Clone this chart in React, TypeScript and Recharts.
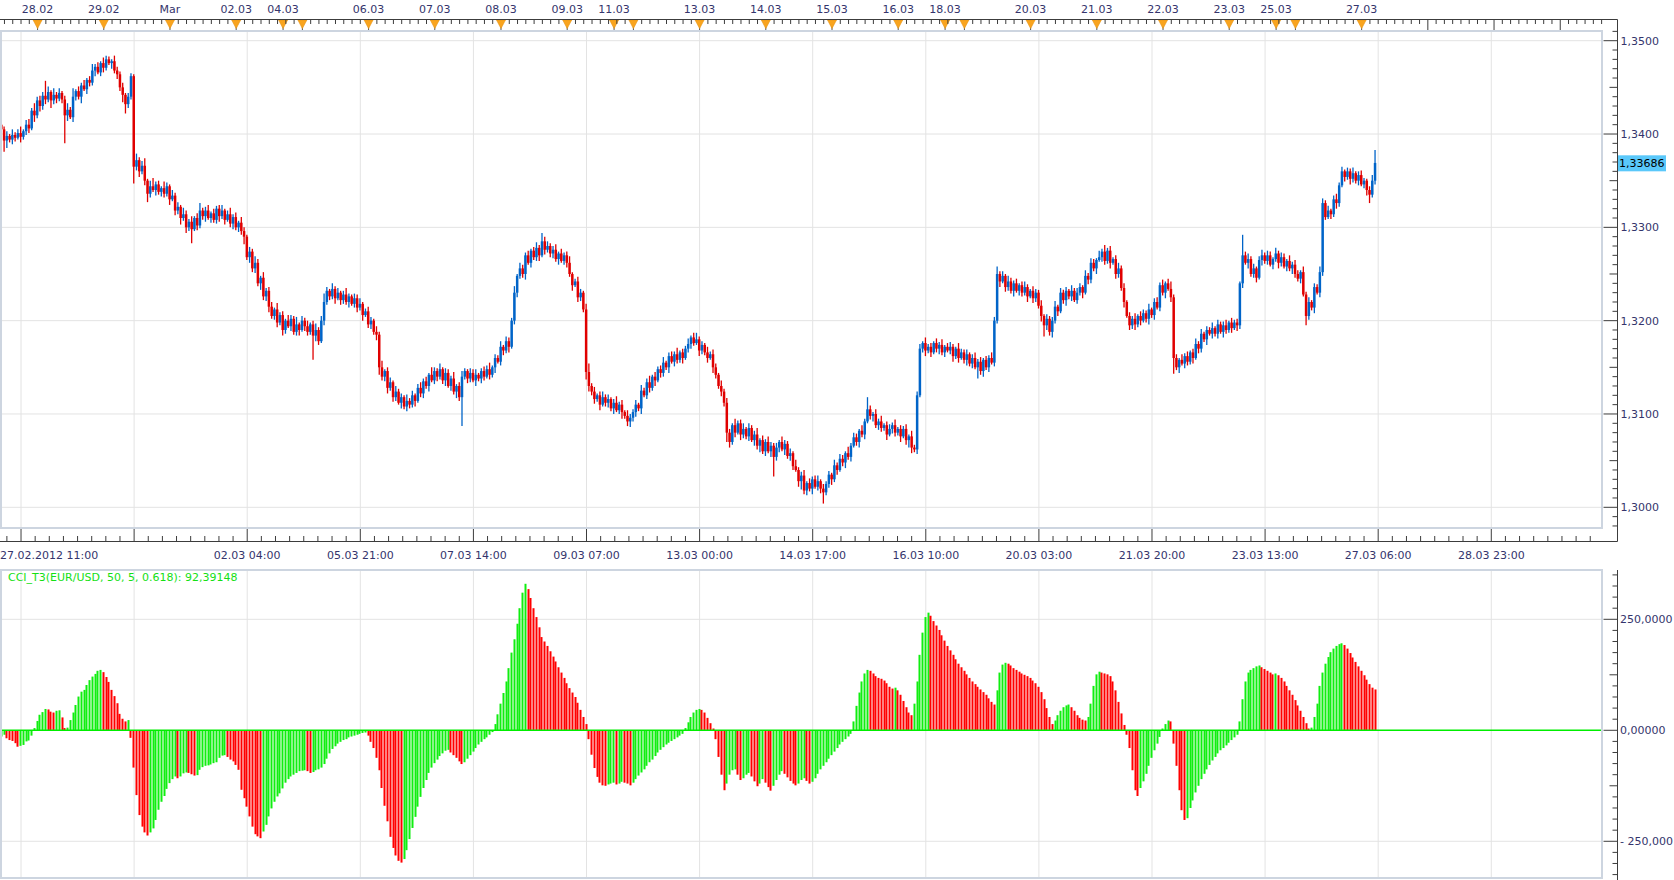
import React from "react";
import { ComposedChart, Bar, XAxis, YAxis, CartesianGrid, ReferenceLine } from "recharts";

// EUR/USD hourly, 27.02.2012 04:00 .. 27.03.2012 05:00
// prices kept in pips above 1.3000
const OPEN_FIRST = 410;
const CLOSE = [
  405, 393, 398, 394, 399, 396, 401, 397, 403, 410,
  406, 425, 420, 436, 430, 441, 437, 445, 436, 442,
  438, 444, 437, 420, 426, 418, 440, 446, 440, 452,
  448, 458, 455, 468, 472, 466, 476, 471, 480, 476,
  478, 468, 464, 450, 442, 432, 440, 462,
  365, 372, 360, 366, 350, 336, 344, 340, 346, 338,
  342, 336, 344, 330, 334, 318, 322, 310, 314, 300,
  306, 298, 310, 302, 318, 312, 318, 310, 315, 308,
  320, 312, 318, 308, 314, 304, 311, 300, 305, 296,
  290, 268, 274, 256, 262, 240, 246, 226, 232, 215,
  205, 212, 198, 206, 190, 200, 194, 202, 188, 196,
  190, 200, 194, 188, 196, 184, 190, 178, 200, 220,
  232, 226, 234, 224, 230, 222, 228, 220, 226, 218,
  224, 214, 218, 206, 210, 196, 200, 188, 185, 150,
  140, 146, 128, 134, 118, 124, 112, 118, 108, 114,
  110, 120, 114, 128, 122, 135, 130, 142, 136, 146,
  140, 148, 136, 144, 130, 138, 124, 130, 118, 140,
  146, 138, 144, 136, 142, 138, 146, 140, 148, 142,
  150, 160, 156, 172, 168, 178, 172, 200, 230, 248,
  256, 250, 270, 262, 275, 268, 278, 270, 285, 276,
  280, 272, 276, 266, 272, 264, 270, 262, 250, 238,
  242, 225, 230, 212, 145, 130, 124, 116, 120, 110,
  118, 112, 116, 106, 112, 104, 110, 102, 98, 92,
  96, 102, 110, 106, 125, 120, 134, 128, 140, 136,
  148, 144, 155, 150, 162, 156, 164, 158, 166, 160,
  170, 175, 182, 176, 180, 168, 174, 166, 160, 164,
  150, 142, 130, 124, 112, 80, 70, 88, 80, 90,
  78, 84, 76, 85, 72, 78, 66, 72, 60, 70,
  60, 66, 54, 64, 70, 62, 68, 55, 58, 44,
  40, 28, 34, 18, 26, 20, 30, 22, 28, 20,
  16, 25, 35, 30, 45, 40, 52, 48, 58, 54,
  66, 75, 70, 82, 78, 92, 105, 98, 100, 88,
  92, 85, 88, 78, 84, 88, 80, 84, 76, 84,
  72, 76, 64, 62, 120, 170, 176, 168, 172, 166,
  176, 170, 174, 166, 172, 168, 172, 162, 170, 160,
  166, 158, 164, 154, 160, 150, 156, 146, 158, 150,
  160, 155, 200, 250, 242, 248, 236, 242, 232, 240,
  232, 238, 230, 236, 226, 232, 224, 230, 216, 205,
  195, 202, 188, 200, 215, 210, 230, 222, 232, 226,
  232, 222, 230, 236, 230, 248, 244, 262, 256, 265,
  268, 274, 264, 275, 262, 266, 250, 256, 235, 220,
  205, 195, 202, 196, 205, 200, 208, 202, 212, 206,
  220, 214, 238, 230, 240, 234, 225, 160, 150, 158,
  154, 162, 156, 166, 160, 175, 170, 186, 180, 190,
  186, 192, 186, 196, 188, 195, 190, 198, 192, 198,
  195, 240, 270, 262, 266, 250, 256, 246, 265, 270,
  264, 270, 260, 266, 272, 262, 268, 258, 264, 256,
  260, 250,
  245, 252, 228, 205, 220, 214, 236, 230, 252, 326,
  311, 318, 314, 330, 326, 345, 360, 354, 360, 352,
  358, 350, 356, 346, 350, 340, 335, 350, 369,
];
// pips from body to high / low
const WICK_UP = [
  9,3,5,2,6,3,4,7,2,5, 6,3,8,4,5,4,16,6,2,7,
  3,5,2,4,7,3,9,2,5,3, 6,2,4,7,3,5,2,6,4,3,
  2,6,4,3,5,2,4,3,2,7, 3,5,8,2,6,9,3,4,2,7,
  4,2,6,3,5,2,7,4,3,6, 2,5,8,3,4,6,2,5,3,4,
  6,2,4,7,3,5,2,6,4,2, 5,3,7,4,2,6,3,4,5,2,
  7,3,4,2,6,4,3,8,2,5, 3,6,2,4,7,3,5,9,4,2,
  6,3,5,2,4,7,3,2,5,4, 6,2,3,5,4,2,6,3,7,2,
  4,5,2,6,3,4,2,7,3,5, 2,4,6,3,5,2,8,4,3,6,
  2,5,4,3,7,2,4,6,3,2, 5,4,6,2,3,5,4,7,2,4,
  3,6,2,5,4,3,7,2,6,4, 3,5,2,4,6,3,9,5,5,3,
  4,6,2,5,3,4,7,2,3,5, 4,2,6,9,3,5,2,4,6,3,
  5,2,4,7,3,5,2,6,4,3, 5,2,6,3,4,7,2,5,3,4,
  6,2,4,5,3,7,2,4,3,6, 2,5,7,3,4,2,6,3,5,4,
  2,6,3,5,4,2,7,3,4,6, 2,5,3,4,7,2,5,3,6,4,
  3,5,2,6,4,3,5,2,7,3, 4,6,2,5,3,4,6,2,5,3,
  4,2,6,3,5,4,2,7,3,5, 4,2,6,3,13,4,2,5,3,6,
  2,4,5,3,6,2,4,3,5,2, 6,3,4,5,2,6,3,4,2,5,
  3,6,2,4,5,3,2,6,4,3, 5,2,4,6,3,5,2,4,3,6,
  4,8,3,5,2,6,4,3,5,2, 4,6,3,2,5,4,3,6,2,5,
  3,4,6,2,5,3,4,2,6,3, 5,4,2,6,3,5,4,2,7,3,
  7,3,5,2,4,6,3,5,2,4, 3,6,2,5,4,3,6,2,4,5,
  3,6,2,5,8,3,4,2,6,3, 5,2,4,6,3,5,2,4,3,6,
  2,5,3,4,6,2,5,3,4,2, 22,4,6,3,5,2,4,6,3,5,
  4,2,6,3,5,4,2,6,3,5, 4,2,6,3,5,2,4,3,6,5,
  3,5,2,4,6,3,5,2,4,3, 6,2,4,5,3,2,4,6,14,
];
const WICK_DN = [
  6,12,8,3,5,4,2,6,3,4, 5,2,7,3,6,4,5,3,8,4,
  5,3,4,30,6,2,5,4,3,7, 2,5,4,3,6,2,4,5,3,2,
  6,3,5,4,8,10,4,3,18,4, 6,3,5,9,4,2,6,3,5,4,
  3,6,2,5,4,7,3,6,4,15, 2,5,3,4,6,2,5,3,4,6,
  3,5,2,4,6,3,5,4,8,3, 6,4,5,3,7,4,5,6,3,4,
  5,3,6,4,2,5,3,4,6,2, 5,4,3,26,6,4,2,5,3,4,
  3,6,2,5,4,3,6,2,4,5, 3,6,2,4,5,3,6,8,4,5,
  6,3,5,4,2,6,3,5,4,3, 6,2,4,5,3,6,2,4,5,3,
  4,6,2,5,3,7,4,31,3,5, 4,2,6,3,5,4,2,5,3,6,
  2,4,5,3,6,2,4,5,3,4, 6,2,5,3,4,6,2,5,3,4,
  5,3,6,2,4,5,3,6,2,5, 4,3,8,6,4,5,3,6,2,4,
  5,3,6,2,4,7,3,5,6,4, 5,3,6,2,4,5,3,6,2,5,
  4,3,6,2,5,4,3,6,2,4, 5,3,2,6,4,3,5,2,6,4,
  3,5,4,10,6,3,5,2,6,4, 3,5,2,6,4,7,3,5,2,6,
  21,4,5,2,6,3,5,4,2,6, 9,4,5,3,6,2,4,5,12,3,
  4,6,3,5,2,4,6,3,5,2, 4,6,3,5,2,4,6,3,5,4,
  3,6,2,5,4,3,6,2,5,8, 6,3,5,2,4,6,3,5,2,4,
  6,3,5,2,4,6,3,5,2,4, 6,3,5,2,12,4,6,3,5,2,
  4,3,6,2,5,4,3,6,2,5, 4,3,6,2,5,4,3,6,12,5,
  4,6,3,5,2,4,6,3,5,2, 4,3,6,2,5,4,3,6,2,5,
  4,3,6,2,5,4,3,6,2,5, 4,6,3,5,2,4,6,3,5,2,
  4,3,6,2,5,17,3,6,2,5, 4,3,6,2,5,4,3,6,2,5,
  3,5,2,6,4,3,5,2,6,4, 5,2,6,3,4,5,2,6,3,4,
  2,5,3,6,4,2,5,3,6,4, 3,5,2,10,4,3,6,2,5,4,
  3,2,5,3,6,4,2,5,3,6, 4,3,5,2,4,6,9,3,4,
];
const LAST_PRICE = 1.33686;
const LAST_PRICE_LABEL = "1,33686";

const CCI = [
  -14, -10, -18, -22, -24, -29, -37, -35, -33, -25,
  -23, -12, 5, 21, 35, 41, 48, 47, 42, 40,
  44, 45, 29, 5, 6, 23, 40, 57, 76, 87,
  91, 102, 113, 121, 127, 134, 136, 131, 120, 109,
  91, 77, 61, 37, 26, 20, 23, -17, -84, -146,
  -191, -217, -230, -237, -230, -221, -202, -179, -161, -148,
  -132, -119, -110, -104, -108, -104, -97, -95, -96, -99,
  -102, -101, -89, -83, -80, -79, -77, -74, -72, -62,
  -57, -56, -60, -66, -70, -78, -89, -134, -153, -172,
  -194, -217, -234, -239, -243, -228, -213, -194, -176, -161,
  -149, -142, -131, -118, -110, -104, -100, -96, -92,
  -91, -90, -92, -96, -94, -90, -88, -84, -76, -64,
  -52, -42, -36, -30, -26, -22, -20, -16, -14, -12,
  -10, -8, -6, -5, -12, -26, -40, -62, -90, -130,
  -170, -205, -240, -265, -282, -294, -298, -290, -270, -245,
  -220, -195, -172, -150, -130, -112, -96, -84, -74, -66,
  -58, -52, -46, -44, -50, -56, -62, -70, -76, -72,
  -64, -56, -48, -40, -32, -26, -20, -16, -10, -4,
  14, 36, 60, 84, 110, 140, 175, 205, 240, 275,
  310, 330, 318, 298, 275, 255, 232, 210, 200, 190,
  178, 166, 155, 142, 130, 118, 106, 95, 85, 75,
  62, 46, 30, 14, -20, -55, -85, -105, -118, -124,
  -125, -122, -120, -118, -122, -120, -116, -118, -120, -124,
  -118, -110, -102, -95, -88, -80, -72, -66, -58, -50,
  -44, -38, -32, -28, -24, -20, -16, -12, -8, 5,
  18, 30, 40, 46, 48, 46, 40, 28, 16, 4,
  -20, -60, -100, -135, -120, -100, -90, -88, -100, -112,
  -108, -100, -96, -104, -115, -126, -120, -110, -118, -128,
  -136, -125, -112, -100, -92, -98, -106, -114, -120, -124,
  -120, -112, -108, -114, -120, -116, -108, -98, -88, -80,
  -72, -64, -56, -48, -40, -32, -26, -20, -14, -8,
  20, 55, 85, 110, 128, 136, 134, 128, 122, 118,
  116, 112, 106, 98, 94, 96, 90, 80, 66, 52,
  40, 34, 60, 110, 170, 220, 255, 265, 258, 246,
  236, 226, 214, 202, 190, 180, 170, 160, 150, 142,
  134, 126, 118, 110, 104, 98, 92, 86, 80, 72,
  64, 58, 90, 130, 148, 152, 150, 146, 140, 136,
  132, 128, 125, 122, 118, 112, 106, 98, 86, 70,
  50, 30, 14, 22, 34, 44, 52, 56, 58, 52,
  44, 34, 28, 24, 22, 30, 60, 100, 126, 132,
  130, 128, 126, 122, 110, 90, 64, 38, 12, -10,
  -40, -90, -135, -148, -130, -115, -98, -80, -62, -45,
  -30, -15, 4, 14, 22, 20, -30, -80, -135, -180,
  -202, -198, -175, -158, -140, -125, -110, -98, -88, -78,
  -68, -60, -52, -45, -40, -34, -28, -22, -16, -10,
  20, 70, 110, 130, 136, 140, 144, 146, 142, 138,
  134, 130, 126, 128, 124, 118, 110, 100, 90, 80,
  68, 56, 44, 30, 16, 4, 6, 30, 60, 100,
  130, 150, 165, 176, 184, 190, 194, 196, 192, 184,
  174, 164, 154, 144, 134, 124, 114, 104, 96, 92,
];
const CCI_LEGEND = "CCI_T3(EUR/USD, 50, 5, 0.618): 92,39148";

// time axis (bar numbers)
const GRID_IDX = [7, 48, 89, 130, 171, 212, 253, 294, 335, 376, 417, 458, 499, 540];
const GRID_LABELS = [
  "27.02.2012 11:00", "", "02.03 04:00", "05.03 21:00", "07.03 14:00", "09.03 07:00", "13.03 00:00",
  "14.03 17:00", "16.03 10:00", "20.03 03:00", "21.03 20:00", "23.03 13:00", "27.03 06:00", "28.03 23:00",
];
const DAY_IDX = [13, 37, 61, 85, 102, 109, 133, 157, 181, 205, 222, 229, 253, 277, 301, 325, 342, 349, 373, 397, 421, 445, 462, 469, 493];
const DAY_LABELS = [
  "28.02", "29.02", "Mar", "02.03", "04.03", "", "06.03", "07.03", "08.03", "09.03", "11.03", "", "13.03",
  "14.03", "15.03", "16.03", "18.03", "", "20.03", "21.03", "22.03", "23.03", "25.03", "", "27.03",
];
const FUTURE_DAY_IDX = [517, 541, 565];

const PRICE_TICKS = [1.3, 1.31, 1.32, 1.33, 1.34, 1.35];
const PRICE_LABELS = ["1,3000", "1,3100", "1,3200", "1,3300", "1,3400", "1,3500"];
const CCI_TICKS = [-250, 0, 250];
const CCI_LABELS = ["- 250,000", "0,00000", "250,0000"];

const W = 1674;
const PLOT_R = 1603;
const AXIS_X = 1617.5;
const TOP_H = 31;
const BOTTOM_H = 41;
const PRICE_H = 569;
const CCI_TOP = 569;
const CCI_H = 311;
const X_DOMAIN: [number, number] = [-0.62, 580.5];
const PRICE_DOMAIN: [number, number] = [1.297782, 1.351039];
const CCI_DOMAIN: [number, number] = [-332.7, 363.3];

const FONT = "DejaVu Sans, Verdana, sans-serif";
const TXT = "#34346c";
const AXIS = "#3c3c3c";
const GRID = "#e3e3e3";
const FRAME = "#cdd5e0";
const UP = "#0064c8";
const DOWN = "#e00000";

const pip = (v: number) => 1.3 + v / 10000;

const candles = CLOSE.map((c, i) => {
  const o = i === 0 ? OPEN_FIRST : CLOSE[i - 1];
  return {
    i,
    open: pip(o),
    close: pip(c),
    range: [pip(Math.min(o, c) - (WICK_DN[i] ?? 3)), pip(Math.max(o, c) + (WICK_UP[i] ?? 3))],
  };
});

const cciData = CCI.map((v, i) => ({ i, v, up: i === 0 || v >= CCI[i - 1] }));

const topTicks = (() => {
  const s = new Set<number>([...DAY_IDX, ...FUTURE_DAY_IDX]);
  for (let t = 1; t <= 580; t += 3) s.add(t);
  return Array.from(s).sort((a, b) => a - b);
})();

const bottomTicks = (() => {
  const out = [...GRID_IDX];
  for (let k = -1; k <= 111; k++) if (k % 8 !== 0) out.push(7 + (k * 41) / 8);
  return out.sort((a, b) => a - b);
})();

const priceAxisTicks = (() => {
  const out: number[] = [];
  for (let m = 1298; m <= 1351; m++) out.push(m / 1000);
  out.push(LAST_PRICE);
  return out;
})();

const cciAxisTicks = (() => {
  const out: number[] = [];
  for (let n = -13; n <= 14; n++) out.push(n * 25);
  return out;
})();

const txt = { fontFamily: FONT, fontSize: 11, fill: TXT };

const TopTick = (props: any) => {
  const { x, payload } = props;
  const v = payload.value as number;
  const d = DAY_IDX.indexOf(v);
  if (d >= 0) {
    return (
      <g>
        <line x1={x} x2={x} y1={19.5} y2={31} stroke="#555" />
        <polygon points={`${x - 4.5},20 ${x + 4.5},20 ${x},28.5`} fill="#f9a41e" stroke="#e89410" strokeWidth={0.6} />
        {DAY_LABELS[d] ? (
          <text x={x} y={9.5} dy="0.35em" textAnchor="middle" {...txt}>
            {DAY_LABELS[d]}
          </text>
        ) : null}
      </g>
    );
  }
  if (FUTURE_DAY_IDX.includes(v)) return <line x1={x} x2={x} y1={19.5} y2={31} stroke={AXIS} />;
  return <line x1={x} x2={x} y1={19.5} y2={24} stroke={AXIS} />;
};

const BottomTick = (props: any) => {
  const { x, payload } = props;
  const v = payload.value as number;
  const g = GRID_IDX.indexOf(v);
  if (g >= 0) {
    return (
      <g>
        <line x1={x} x2={x} y1={529} y2={541} stroke={AXIS} />
        {GRID_LABELS[g] ? (
          <text x={g === 0 ? 0 : x} y={555} dy="0.35em" textAnchor={g === 0 ? "start" : "middle"} {...txt}>
            {GRID_LABELS[g]}
          </text>
        ) : null}
      </g>
    );
  }
  return <line x1={x} x2={x} y1={536} y2={541} stroke={AXIS} />;
};

const PriceTick = (props: any) => {
  const { y, payload } = props;
  const v = payload.value as number;
  if (v === LAST_PRICE) {
    return (
      <g>
        <rect x={AXIS_X + 0.5} y={y - 8} width={48} height={16} fill="#5ac8fa" />
        <text x={AXIS_X + 1.5} y={y} dy="0.35em" {...txt} fill="#000">
          {LAST_PRICE_LABEL}
        </text>
      </g>
    );
  }
  const m = Math.round(v * 1000);
  const k = PRICE_TICKS.findIndex((t) => Math.abs(t - v) < 1e-9);
  const len = k >= 0 ? 14 : m % 5 === 0 ? 8 : 5;
  return (
    <g>
      <line x1={AXIS_X - len} x2={AXIS_X} y1={y} y2={y} stroke={AXIS} />
      {k >= 0 ? (
        <text x={AXIS_X + 3} y={y} dy="0.35em" {...txt}>
          {PRICE_LABELS[k]}
        </text>
      ) : null}
    </g>
  );
};

const CciTick = (props: any) => {
  const { y, payload } = props;
  const v = payload.value as number;
  const k = CCI_TICKS.indexOf(v);
  const len = k >= 0 ? 14 : v % 125 === 0 ? 8 : 5;
  return (
    <g>
      <line x1={AXIS_X - len} x2={AXIS_X} y1={y} y2={y} stroke={AXIS} />
      {k >= 0 ? (
        <text x={AXIS_X + 2.5} y={y} dy="0.35em" {...txt}>
          {CCI_LABELS[k]}
        </text>
      ) : null}
    </g>
  );
};

const Candle = (props: any) => {
  const { x, y, width, height, payload } = props;
  if (!payload) return null;
  const [lo, hi] = payload.range;
  const top = Math.min(y, y + height);
  const h = Math.abs(height);
  const px = h / (hi - lo || 1);
  const cx = x + width / 2;
  const bodyTop = top + (hi - Math.max(payload.open, payload.close)) * px;
  const bodyH = Math.max(1, Math.abs(payload.close - payload.open) * px);
  const col = payload.close >= payload.open ? UP : DOWN;
  return (
    <g>
      <line x1={cx} x2={cx} y1={top} y2={top + h} stroke={col} strokeWidth={1.3} />
      <rect x={cx - 1.25} y={bodyTop} width={2.5} height={bodyH} fill={col} />
    </g>
  );
};

const CciBar = (props: any) => {
  const { x, y, width, height, payload } = props;
  if (!payload) return null;
  const top = Math.min(y, y + height);
  const h = Math.max(1, Math.abs(height));
  return <rect x={Math.floor(x + width / 2) - 0.5} y={top} width={2} height={h} fill={payload.up ? "#10ee10" : "#ff0000"} />;
};

export default function App() {
  return (
    <div style={{ position: "absolute", left: 0, top: 0, width: W, height: 880, background: "#fff", overflow: "hidden" }}>
      <div style={{ position: "absolute", left: 0, top: 0 }}>
        <ComposedChart width={W} height={PRICE_H} data={candles} margin={{ top: 0, right: 0, bottom: 0, left: 0 }}>
          <CartesianGrid stroke={GRID} verticalValues={GRID_IDX} horizontalValues={PRICE_TICKS} />
          <XAxis
            xAxisId="top"
            orientation="top"
            type="number"
            dataKey="i"
            domain={X_DOMAIN}
            allowDataOverflow
            ticks={topTicks}
            interval={0}
            height={TOP_H}
            axisLine={false}
            tickLine={false}
            tickSize={0}
            tick={(p: any) => <TopTick {...p} />}
          />
          <XAxis
            type="number"
            dataKey="i"
            domain={X_DOMAIN}
            allowDataOverflow
            ticks={bottomTicks}
            interval={0}
            height={BOTTOM_H}
            axisLine={false}
            tickLine={false}
            tickSize={0}
            tick={(p: any) => <BottomTick {...p} />}
          />
          <YAxis
            orientation="right"
            type="number"
            domain={PRICE_DOMAIN}
            allowDataOverflow
            ticks={priceAxisTicks}
            interval={0}
            width={W - PLOT_R}
            axisLine={false}
            tickLine={false}
            tickSize={0}
            tick={(p: any) => <PriceTick {...p} />}
          />
          <Bar dataKey="range" barSize={2} isAnimationActive={false} shape={(p: any) => <Candle {...p} />} />
        </ComposedChart>
      </div>

      <div style={{ position: "absolute", left: 0, top: CCI_TOP }}>
        <ComposedChart width={W} height={CCI_H} data={cciData} margin={{ top: 0, right: 0, bottom: 2, left: 0 }}>
          <CartesianGrid stroke={GRID} verticalValues={GRID_IDX} horizontalValues={[-250, 250]} />
          <XAxis type="number" dataKey="i" domain={X_DOMAIN} allowDataOverflow hide />
          <YAxis
            orientation="right"
            type="number"
            domain={CCI_DOMAIN}
            allowDataOverflow
            ticks={cciAxisTicks}
            interval={0}
            width={W - PLOT_R}
            axisLine={false}
            tickLine={false}
            tickSize={0}
            tick={(p: any) => <CciTick {...p} />}
          />
          <Bar dataKey="v" barSize={2} isAnimationActive={false} shape={(p: any) => <CciBar {...p} />} />
          <ReferenceLine y={0} stroke="#00ee00" strokeWidth={1.5} ifOverflow="extendDomain" />
        </ComposedChart>
      </div>

      <svg width={W} height={880} style={{ position: "absolute", left: 0, top: 0, pointerEvents: "none" }}>
        <rect x={1} y={31} width={PLOT_R - 2} height={497} fill="none" stroke={FRAME} strokeWidth={2} />
        <rect x={1} y={570} width={PLOT_R - 2} height={308} fill="none" stroke={FRAME} strokeWidth={2} />
        <line x1={0} y1={19.5} x2={AXIS_X} y2={19.5} stroke={AXIS} />
        <line x1={AXIS_X} y1={19.5} x2={AXIS_X} y2={541.5} stroke={AXIS} />
        <line x1={0} y1={541.5} x2={AXIS_X} y2={541.5} stroke={AXIS} />
        <line x1={AXIS_X} y1={570} x2={AXIS_X} y2={880} stroke={AXIS} />
        <text x={8} y={577} dy="0.35em" fontFamily={FONT} fontSize={11} fill="#14e014">
          {CCI_LEGEND}
        </text>
      </svg>
    </div>
  );
}
